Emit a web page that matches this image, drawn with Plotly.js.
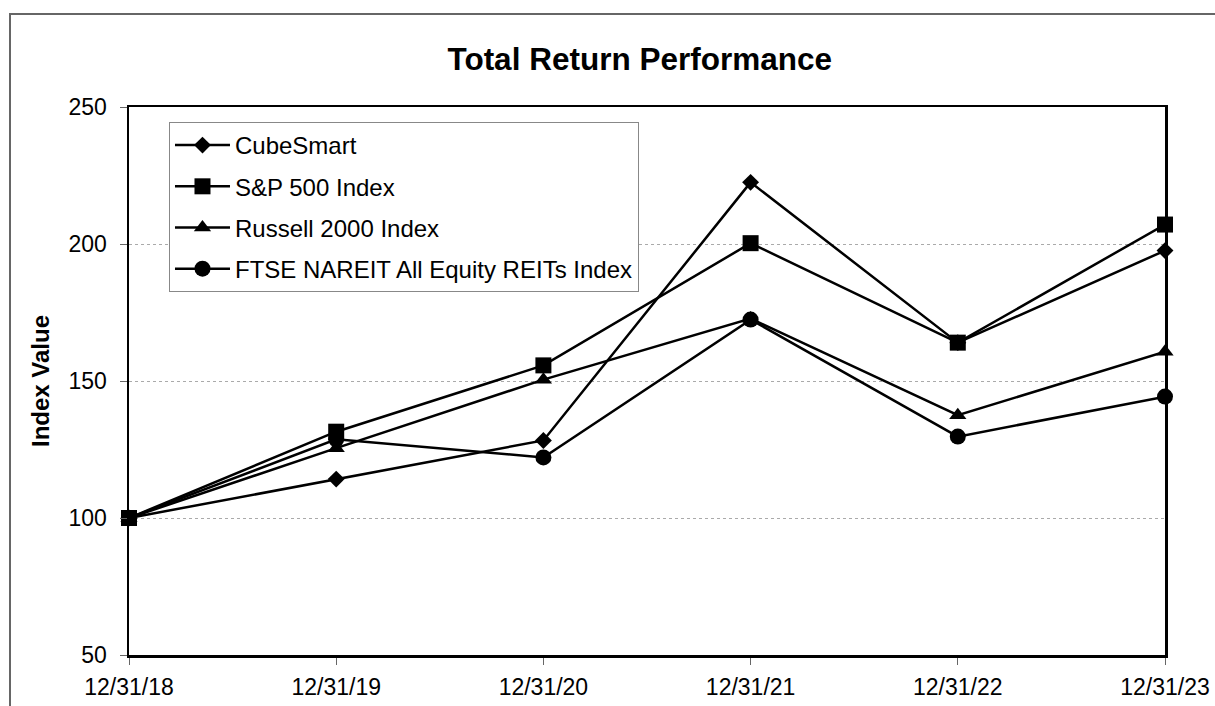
<!DOCTYPE html>
<html>
<head>
<meta charset="utf-8">
<script src="https://cdn.plot.ly/plotly-3.0.1.min.js"></script>
<style>
  html, body { margin: 0; padding: 0; background: #fff; }
  #wrap { position: relative; width: 1215px; height: 706px; overflow: hidden; }
  #chart { width: 1215px; height: 706px; }
  #frame { position: absolute; left: 9px; top: 13px; width: 1220px; height: 720px;
           border-top: 2px solid #666; border-left: 2px solid #666; pointer-events: none; }
</style>
</head>
<body>
<div id="wrap">
  <div id="chart"></div>
  <div id="frame"></div>
</div>
<script>
const dates = ['12/31/18', '12/31/19', '12/31/20', '12/31/21', '12/31/22', '12/31/23'];
const cubeSmart = [100, 114.2, 128.3, 222.5, 164.0, 197.6];
const sp500 = [100, 131.5, 155.7, 200.3, 164.0, 207.1];
const russell2000 = [100, 125.5, 150.5, 172.8, 137.5, 160.7];
const ftseNareit = [100, 128.7, 122.1, 172.4, 129.7, 144.3];

const FONT = 'Arial, "Liberation Sans", sans-serif';

function series(name, y, symbol, size, rank) {
  return {
    type: 'scatter', mode: 'lines+markers', name: name,
    x: dates, y: y,
    line: { color: '#000', width: 2.5 },
    marker: { symbol: symbol, size: size, color: '#000', line: { width: 0 } },
    cliponaxis: false,
    legendgroup: name, legendrank: rank
  };
}

const traces = [
  series('CubeSmart', cubeSmart, 'diamond', 13, 1),
  series('Russell 2000 Index', russell2000, 'triangle-up', 15, 3),
  series('FTSE NAREIT All Equity REITs Index', ftseNareit, 'circle', 16, 4),
  series('S&P 500 Index', sp500, 'square', 16, 2)
];

const layout = {
  width: 1215, height: 706,
  margin: { l: 129, r: 50, t: 107, b: 51 },
  paper_bgcolor: '#fff', plot_bgcolor: '#fff',
  font: { family: FONT, size: 23.5, color: '#000' },
  title: {
    text: '<b>Total Return Performance</b>',
    font: { family: FONT, size: 31.5, color: '#000' },
    xref: 'paper', x: 0.493, xanchor: 'center',
    yref: 'container', y: 0.916, yanchor: 'middle'
  },
  xaxis: {
    type: 'category', range: [0, 5],
    showline: true, linecolor: '#000', linewidth: 2.5, mirror: true,
    showgrid: false, zeroline: false,
    ticks: 'outside', ticklen: 7, tickwidth: 1, tickcolor: '#666',
    tickfont: { family: FONT, size: 23, color: '#000' },
    ticklabelstandoff: 3
  },
  yaxis: {
    range: [50, 250], dtick: 50, tick0: 50,
    showline: true, linecolor: '#000', linewidth: 2.5, mirror: true,
    showgrid: true, gridcolor: '#aaa', griddash: 'dot', gridwidth: 1,
    zeroline: false,
    ticks: 'outside', ticklen: 7, tickwidth: 1, tickcolor: '#666',
    tickfont: { family: FONT, size: 23, color: '#000' },
    ticklabelstandoff: 8,
    title: { text: '<b>Index Value</b>', font: { family: FONT, size: 24, color: '#000' }, standoff: 12 }
  },
  showlegend: true,
  legend: {
    x: 0.0386, y: 0.9726, xanchor: 'left', yanchor: 'top',
    bgcolor: '#fff', bordercolor: '#888', borderwidth: 1,
    font: { family: FONT, size: 24, color: '#000' },
    traceorder: 'grouped', tracegroupgap: 7,
    itemwidth: 55
  }
};

Plotly.newPlot('chart', traces, layout, { displayModeBar: false, staticPlot: true });
</script>
</body>
</html>
